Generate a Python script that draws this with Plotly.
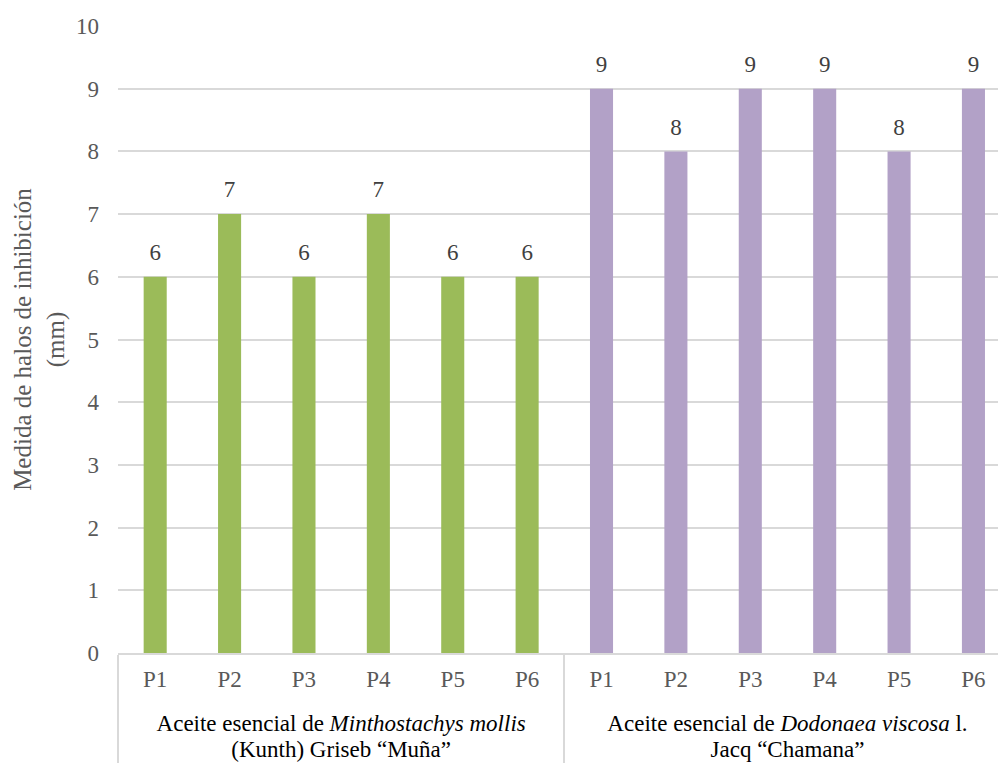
import plotly.graph_objects as go

# Inhibition halo measurements (mm) per sample, for each essential oil
LABEL_STYLE = "color:#000000;font-size:23px"
groups = [
    f'<span style="{LABEL_STYLE}">Aceite esencial de <i>Minthostachys mollis</i></span><br>'
    f'<span style="{LABEL_STYLE}">(Kunth) Griseb “Muña”</span>',
    f'<span style="{LABEL_STYLE}">Aceite esencial de <i>Dodonaea viscosa</i> l.</span><br>'
    f'<span style="{LABEL_STYLE}">Jacq “Chamana”</span>',
]
samples = ["P1", "P2", "P3", "P4", "P5", "P6"]
muna_values = [6, 7, 6, 7, 6, 6]
chamana_values = [9, 8, 9, 9, 8, 9]
colors = ["#9BBB59", "#B2A1C7"]

FONT = "Liberation Serif, Times New Roman, serif"

# sample labels get an empty second line so the group row sits lower
sample_labels = [f'<span style="font-size:23px">{s}</span><br> ' for s in samples]

fig = go.Figure()
for grp, vals, col in zip(groups, [muna_values, chamana_values], colors):
    x = [[grp] * len(samples), sample_labels]
    fig.add_trace(go.Bar(
        x=x, y=vals, marker=dict(color=col, line=dict(width=0)),
        width=0.31, showlegend=False, hoverinfo="skip",
    ))
    fig.add_trace(go.Scatter(
        x=x, y=vals, mode="markers+text", text=[str(v) for v in vals],
        textposition="top center",
        textfont=dict(family=FONT, size=23, color="#404040"),
        marker=dict(size=16, opacity=0), showlegend=False, hoverinfo="skip",
        cliponaxis=False,
    ))

fig.update_layout(
    width=998, height=767,
    margin=dict(l=118, r=0, t=26, b=114),
    paper_bgcolor="white", plot_bgcolor="white",
    barmode="overlay",
    font=dict(family=FONT, size=23, color="#595959"),
)
fig.update_xaxes(
    type="multicategory",
    range=[-0.5, 11.33],
    automargin=False,
    showline=True, linecolor="#d9d9d9", linewidth=1.5,
    showgrid=False, ticks="",
    ticklabelstandoff=8,
    showdividers=True, dividercolor="#d9d9d9", dividerwidth=1.5,
    tickfont=dict(family=FONT, size=20, color="#595959"),
)
fig.update_yaxes(
    range=[0, 10], dtick=1, tick0=0,
    automargin=False,
    showgrid=True, gridcolor="#d9d9d9", gridwidth=1.5,
    zeroline=False, showline=False, ticks="",
    ticklabelstandoff=18,
    tickfont=dict(family=FONT, size=23, color="#595959"),
    title=dict(text="Medida de halos de inhibición<br>(mm)",
               font=dict(family=FONT, size=25, color="#595959"), standoff=4),
)

fig.write_html("out.html")
